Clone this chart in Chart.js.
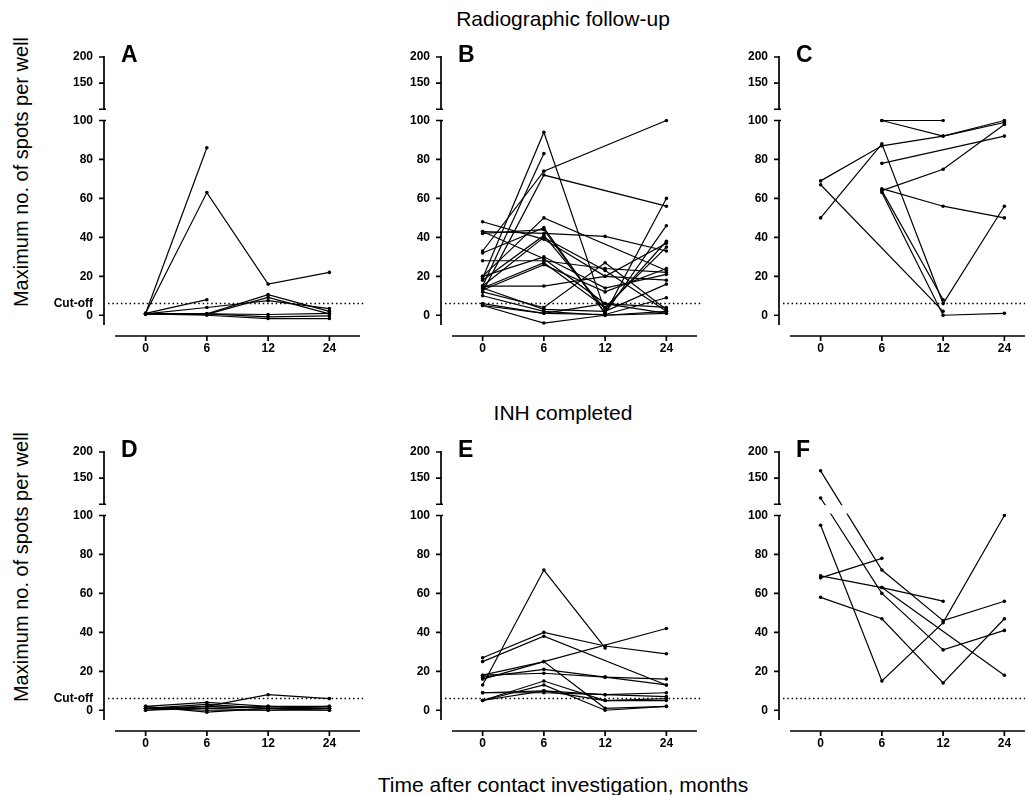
<!DOCTYPE html>
<html>
<head>
<meta charset="utf-8">
<script src="https://cdn.jsdelivr.net/npm/chart.js@4.4.1/dist/chart.umd.min.js"></script>
<style>
  html, body { margin:0; padding:0; background:#fff; width:1025px; height:795px; overflow:hidden; }
  body { position:relative; font-family:"Liberation Sans", Arial, sans-serif; color:#000; }
  canvas { position:absolute; }
  .title { position:absolute; font-size:21px; line-height:21px; white-space:nowrap; transform:translateX(-50%); }
  .ytitle { position:absolute; width:320px; height:20px; font-size:20px; line-height:20px; text-align:center; white-space:nowrap; transform:rotate(-90deg); }
  .letter { position:absolute; font-size:23px; line-height:23px; font-weight:bold; }
</style>
</head>
<body>
<div class="title" style="left:563px; top:8px;">Radiographic follow-up</div>
<div class="title" style="left:563px; top:402px;">INH completed</div>
<div class="title" style="left:563px; top:774px;">Time after contact investigation, months</div>
<div class="ytitle" style="left:-139px; top:162px;">Maximum no. of spots per well</div>
<div class="ytitle" style="left:-139px; top:557px;">Maximum no. of spots per well</div>

<script>
/* ── data ─────────────────────────────────────────── */
const MONTHS  = ['0', '6', '12', '24'];
const Y_TICKS = [0, 20, 40, 60, 80, 100, 150, 200];
const CUTOFF  = 6;

/* one row per subject: values at 0, 6, 12, 24 months (null = not measured) */
const SERIES_A = [
  [1, 86, null, null],
  [1, 63, 16, 22],
  [1, 8, null, null],
  [0.7, 4, 7.5, 3.4],
  [0.7, 0.7, 10.6, 2],
  [0.7, 0.5, 9.2, 0.7],
  [0.7, 0.7, -0.8, -0.3],
  [0.7, 0, -1.7, -1.7],
  [0.7, 0.7, 0.4, 1]
];
const SERIES_B = [
  [19, 94, 2, null],
  [15, 83, null, null],
  [33, 74, null, 100],
  [12, 72, null, 56],
  [48, 39, 20, 18],
  [43, 42, 40.5, 33],
  [20, 50, null, 23],
  [28, 28, 24, 22],
  [32, 45, 1, 60],
  [42, 44, 1, 46],
  [18, 41, 3, 38],
  [15, 15, 20, 37],
  [20, 30, 14, 21],
  [14, 27, 4, 35],
  [13, 26, 12, 24],
  [14, 3, 2, 16],
  [12, 4, 27, 3],
  [10, 2, 0, 2],
  [6, 1, 0.4, 9],
  [5, -4, 0, 1],
  [5, 1, 6, 4],
  [15, 40, 23, 2],
  [43, 29, 6, 1]
];
const SERIES_C = [
  [null, 100, 100, null],
  [null, 100, 92, 100],
  [69, 87, 92, 99],
  [50, 88, 6, 56],
  [null, 78, null, 92],
  [null, 64, 75, 98],
  [null, 65, 56, 50],
  [67, null, 2, null],
  [null, 63, 0, 1],
  [null, 64, 8, null]
];
const SERIES_D = [
  [1, 2, 8, 6],
  [2, 4, 2, 2],
  [1, 3, 1, 1],
  [0, 1, 2, 1],
  [1, 0, 0, 0],
  [2, -1, 1, 2],
  [0, 2, 1, 0],
  [1, 1, 0, 1]
];
const SERIES_E = [
  [13, 72, 32, null],
  [27, 40, 33, 29],
  [25, 38, null, 13],
  [16, 25, null, 42],
  [18, 25, 1, 2],
  [17, 21, 17, 16],
  [18, 19, 17, 13],
  [9, 9, 8, 9],
  [5, 15, 5, 6],
  [5, 13, 0, 2],
  [5, 10, 8, 7],
  [9, 10, 5, 5]
];
const SERIES_F = [
  [164, 72, 46, 56],
  [112, 60, 31, 41],
  [95, 15, 45, 100],
  [69, 63, 56, null],
  [68, 78, null, null],
  [58, 47, 14, 47],
  [null, 63, null, 18]
];

/* ── broken y axis: -5..100 below, gap, 100..200 above ── */
const LOW_MIN = -5, BREAK = 100, HIGH_MAX = 200;
const UPPER_FRAC = 0.195, GAP_FRAC = 0.042;
const AXIS_GAP = 11;

class BrokenScale extends Chart.LinearScale {
  getPixelForValue(v) {
    const h = this.bottom - this.top;
    if (v > BREAK) return this.top + (HIGH_MAX - v) / (HIGH_MAX - BREAK) * h * UPPER_FRAC;
    return this.bottom - (v - LOW_MIN) / (BREAK - LOW_MIN) * h * (1 - UPPER_FRAC - GAP_FRAC);
  }
  getValueForPixel(p) {
    const h = this.bottom - this.top;
    const upBottom = this.top + h * UPPER_FRAC;
    if (p <= upBottom) return HIGH_MAX - (p - this.top) / (h * UPPER_FRAC) * (HIGH_MAX - BREAK);
    return LOW_MIN + (this.bottom - p) / (h * (1 - UPPER_FRAC - GAP_FRAC)) * (BREAK - LOW_MIN);
  }
}
BrokenScale.id = 'broken';
BrokenScale.defaults = Chart.LinearScale.defaults;
Chart.register(BrokenScale);

/* Prism-style detached axes + cut-off line + gap */
const brokenAxes = {
  id: 'brokenAxes',
  beforeDatasetsDraw(chart) {
    const { ctx, chartArea: a, scales: { y } } = chart;
    const yc = y.getPixelForValue(CUTOFF);
    ctx.save();
    ctx.strokeStyle = '#000';
    ctx.lineWidth = 1.5;
    ctx.setLineDash([1.5, 2.8]);
    ctx.beginPath();
    ctx.moveTo(a.left - AXIS_GAP + 4, yc);
    ctx.lineTo(a.right + 6, yc);
    ctx.stroke();
    ctx.restore();
  },
  afterDatasetsDraw(chart) {
    const { ctx, chartArea: a, scales: { x, y } } = chart;
    const upBottom = a.top + (a.bottom - a.top) * UPPER_FRAC;
    const lowTop = y.getPixelForValue(BREAK);
    ctx.save();
    ctx.fillStyle = '#fff';
    ctx.fillRect(a.left - 5, upBottom + 1, a.width + 15, lowTop - upBottom - 3);

    const ax = a.left - AXIS_GAP;
    ctx.strokeStyle = '#000';
    ctx.lineWidth = 1.7;
    ctx.beginPath();
    ctx.moveTo(ax, y.getPixelForValue(HIGH_MAX) - 1); ctx.lineTo(ax, upBottom);
    ctx.moveTo(ax, lowTop); ctx.lineTo(ax, y.getPixelForValue(LOW_MIN));
    ctx.moveTo(ax - 5, upBottom); ctx.lineTo(ax + 2, upBottom);
    ctx.moveTo(ax - 5, lowTop); ctx.lineTo(ax + 2, lowTop);
    y.ticks.forEach(t => {
      if (t.value === CUTOFF || t.value === BREAK) return;
      const py = y.getPixelForValue(t.value);
      ctx.moveTo(ax - 5, py); ctx.lineTo(ax, py);
    });
    const xy = a.bottom + AXIS_GAP;
    ctx.moveTo(a.left, xy); ctx.lineTo(a.right, xy);
    x.ticks.forEach((t, i) => {
      const px = x.getPixelForTick(i);
      ctx.moveTo(px, xy); ctx.lineTo(px, xy + 5);
    });
    ctx.stroke();
    ctx.restore();
  }
};

Chart.defaults.font.family = '"Liberation Sans", Arial, sans-serif';
Chart.defaults.color = '#000';

const Y_AXIS_X = [104, 441, 779];
const ROW_TOP  = [57, 452];
const PLOT_W = 245, PLOT_H = 268;
/* top padding must exceed half a label + tick padding, or Chart.js pushes the area down */
const PAD_TOP = 32, Y_W = 70, X_H = 40, PAD_R = 10;

const panels = [
  { letter:'A', series:SERIES_A, col:0, row:0, cut:true },
  { letter:'B', series:SERIES_B, col:1, row:0, cut:false },
  { letter:'C', series:SERIES_C, col:2, row:0, cut:false },
  { letter:'D', series:SERIES_D, col:0, row:1, cut:true },
  { letter:'E', series:SERIES_E, col:1, row:1, cut:false },
  { letter:'F', series:SERIES_F, col:2, row:1, cut:false }
];

panels.forEach(p => {
  const plotLeft = Y_AXIS_X[p.col] + AXIS_GAP;
  const cv = document.createElement('canvas');
  const w = Y_W + PLOT_W + PAD_R, h = PAD_TOP + PLOT_H + X_H;
  cv.width = w; cv.height = h;
  cv.style.left = (plotLeft - Y_W) + 'px';
  cv.style.top = (ROW_TOP[p.row] - PAD_TOP) + 'px';
  cv.style.width = w + 'px'; cv.style.height = h + 'px';
  document.body.appendChild(cv);

  const lbl = document.createElement('div');
  lbl.className = 'letter';
  lbl.textContent = p.letter;
  lbl.style.left = (Y_AXIS_X[p.col] + 17) + 'px';
  lbl.style.top = (ROW_TOP[p.row] - 14) + 'px';
  document.body.appendChild(lbl);

  const yTicks = p.cut ? [...Y_TICKS, CUTOFF].sort((a, b) => a - b) : Y_TICKS;

  new Chart(cv, {
    type: 'line',
    data: {
      labels: MONTHS,
      datasets: p.series.map(vals => ({
        data: vals,
        borderColor: '#000',
        borderWidth: 1.2,
        pointRadius: 1.8,
        pointBackgroundColor: '#000',
        pointBorderWidth: 0,
        tension: 0,
        spanGaps: true,
        clip: false
      }))
    },
    options: {
      responsive: false,
      animation: false,
      events: [],
      layout: { padding: { top: PAD_TOP, right: PAD_R, left: 0, bottom: 0 } },
      plugins: { legend: { display: false }, tooltip: { enabled: false } },
      scales: {
        x: {
          type: 'category',
          offset: true,
          afterFit: s => { s.height = X_H; },
          grid: { display: false, drawTicks: false },
          border: { display: false },
          ticks: { padding: 16, font: { size: 12, weight: 'bold' }, color: '#000', maxRotation: 0 }
        },
        y: {
          type: 'broken',
          min: LOW_MIN,
          max: HIGH_MAX,
          afterBuildTicks: s => { s.ticks = yTicks.map(v => ({ value: v })); },
          afterFit: s => { s.width = Y_W; },
          grid: { display: false, drawTicks: false },
          border: { display: false },
          ticks: {
            autoSkip: false,
            padding: 22,
            color: '#000',
            font: { size: 12, weight: 'bold' },
            callback: v => v === CUTOFF ? 'Cut-off' : String(v)
          }
        }
      }
    },
    plugins: [brokenAxes]
  });
});
</script>
</body>
</html>
